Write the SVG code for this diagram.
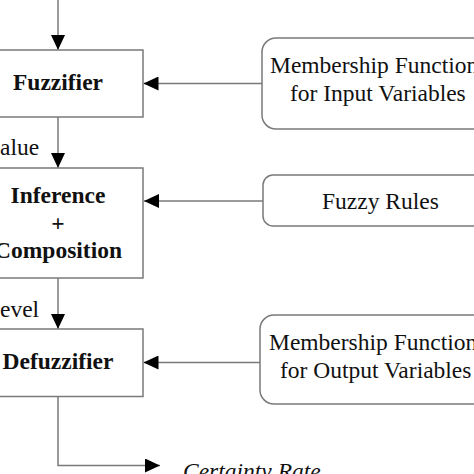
<svg xmlns="http://www.w3.org/2000/svg" width="474" height="474" viewBox="0 0 474 474">
  <defs>
    <marker id="ah" viewBox="0 0 15 14" refX="15" refY="7" markerWidth="15" markerHeight="14" markerUnits="userSpaceOnUse" orient="auto">
      <path d="M0,0 L15,7 L0,14 Z" fill="#000"/>
    </marker>
  </defs>
  <style>
    .box { fill: #fff; stroke: #7a7a7a; stroke-width: 1.5; }
    .rbox { fill: #fff; stroke: #7a7a7a; stroke-width: 1.5; }
    .conn { fill: none; stroke: #7a7a7a; stroke-width: 1.5; }
    .arr { marker-end: url(#ah); }
    .bold { font-family: "Liberation Serif", "Times New Roman", serif; font-weight: bold; font-size: 23.5px; fill: #111; }
    .reg { font-family: "Liberation Serif", "Times New Roman", serif; font-size: 23.5px; fill: #111; }
    .ital { font-family: "Liberation Serif", "Times New Roman", serif; font-style: italic; font-size: 23.5px; fill: #111; }
  </style>
  <rect width="474" height="474" fill="#fff"/>

  <g id="connectors">
    <line class="conn arr" x1="58" y1="0" x2="58" y2="50"/>
    <line class="conn arr" x1="58" y1="117" x2="58" y2="168"/>
    <line class="conn arr" x1="58" y1="278" x2="58" y2="329"/>
    <polyline class="conn arr" points="58,394 58,465.5 160,465.5"/>
    <line class="conn arr" x1="262" y1="83.5" x2="143.5" y2="83.5"/>
    <line class="conn arr" x1="263" y1="201" x2="144" y2="201"/>
    <line class="conn arr" x1="260" y1="362.5" x2="143.5" y2="362.5"/>
    <text class="reg" x="0" y="155">alue</text>
    <text class="reg" x="0" y="317">evel</text>
  </g>

  <g id="fuzzifier">
    <rect class="box" x="-30" y="50" width="173" height="67"/>
    <text class="bold" x="58" y="90" text-anchor="middle">Fuzzifier</text>
  </g>

  <g id="inference">
    <rect class="box" x="-30" y="168" width="173" height="110"/>
    <text class="bold" x="58" y="203" text-anchor="middle">Inference</text>
    <text class="bold" x="58" y="231" text-anchor="middle">+</text>
    <text class="bold" x="58" y="258" text-anchor="middle">Composition</text>
  </g>

  <g id="defuzzifier">
    <rect class="box" x="-30" y="329" width="173" height="67.5"/>
    <text class="bold" x="58" y="369" text-anchor="middle">Defuzzifier</text>
  </g>

  <g id="mf-input">
    <rect class="rbox" x="262" y="38" width="240" height="91" rx="14" ry="14"/>
    <text class="reg" x="270" y="73">Membership Functions</text>
    <text class="reg" x="290" y="101">for Input Variables</text>
  </g>

  <g id="fuzzy-rules">
    <rect class="rbox" x="263" y="175" width="240" height="51" rx="10" ry="10"/>
    <text class="reg" x="322" y="209">Fuzzy Rules</text>
  </g>

  <g id="mf-output">
    <rect class="rbox" x="260" y="315" width="240" height="89" rx="14" ry="14"/>
    <text class="reg" x="269" y="350">Membership Functions</text>
    <text class="reg" x="280" y="378">for Output Variables</text>
  </g>

  <g id="output">
    <text class="ital" x="183" y="479">Certainty Rate</text>
  </g>
</svg>
